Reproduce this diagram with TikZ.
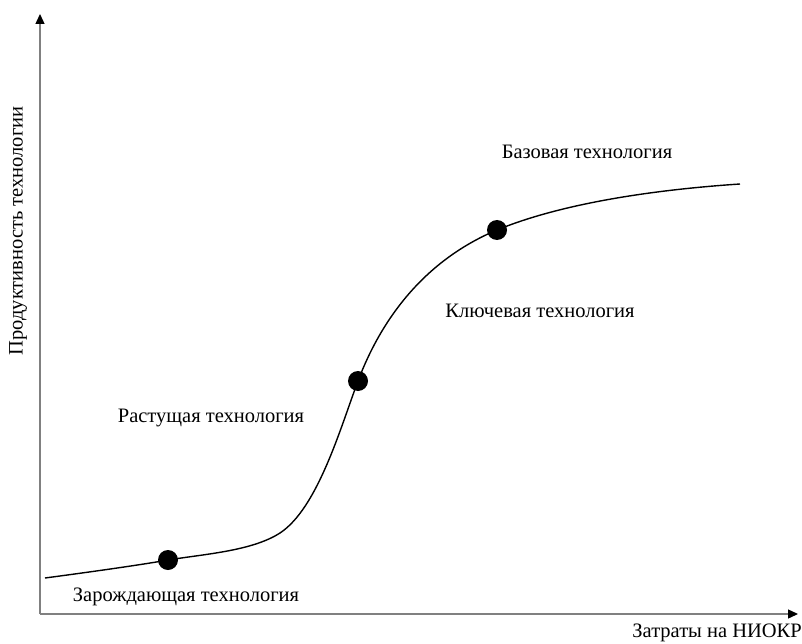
\documentclass[tikz,border=0pt]{standalone}
\usepackage{fontspec}
\setmainfont{Liberation Serif}
\usetikzlibrary{arrows.meta}
\tikzset{
  axis/.style={draw=black!50, line width=1.3pt, -{Triangle[length=10pt,width=9pt,color=black]}},
  curve/.style={draw=black, line width=1.4pt},
  dot/.style={circle, fill=black, inner sep=0pt, minimum size=20pt},
  lbl/.style={font=\fontsize{20.5}{24}\selectfont, inner sep=0pt}
}
\begin{document}
\begin{tikzpicture}[x=1pt,y=-1pt]
\useasboundingbox (0,0) rectangle (802,644);
\coordinate (O) at (40,614);
\coordinate (Ytop) at (40,14);
\coordinate (Xend) at (798,614);
\coordinate (c0) at (45,578);
\coordinate (cm) at (280,533);
\coordinate (c9) at (740,184);
\node[dot] (d1) at (168,560) {};
\node[dot] (d2) at (358,381) {};
\node[dot] (d3) at (497,230) {};
\draw[axis] (O) -- (Ytop);
\draw[axis] (O) -- (Xend);
\draw[curve] (c0) .. controls (90,572) and (140,565) .. (d1.center)
  .. controls (205,554) and (252,551) .. (cm)
  .. controls (318,508) and (341,426) .. (d2.center)
  .. controls (384,312) and (430,258) .. (d3.center)
  .. controls (560,204) and (650,190) .. (c9);
\node[lbl] (l1) at (186,597) {Зарождающая технология};
\node[lbl] (l2) at (211,418) {Растущая технология};
\node[lbl] (l3) at (540,311) {Ключевая технология};
\node[lbl] (l4) at (587,152) {Базовая технология};
\node[lbl, anchor=east] (xl) at (802,633) {Затраты на НИОКР};
\node[lbl, rotate=90] (yl) at (18,231) {Продуктивность технологии};
\end{tikzpicture}
\end{document}
